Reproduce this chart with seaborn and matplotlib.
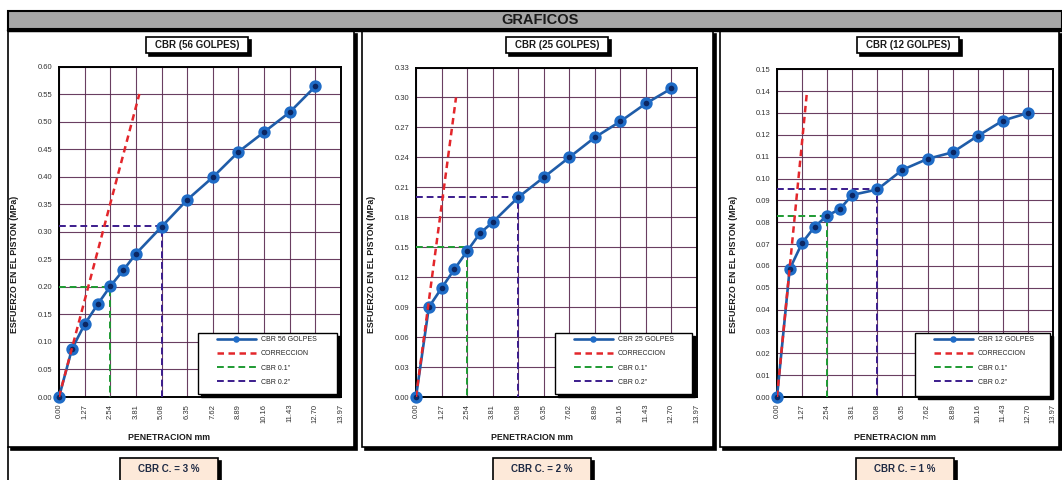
import matplotlib
matplotlib.use("Agg")
import matplotlib.pyplot as plt
import seaborn as sns
import numpy as np
import pandas as pd
from matplotlib.patches import Rectangle

# ---------------- data ----------------
penetracion = [0.00, 0.64, 1.27, 1.91, 2.54, 3.18, 3.81, 5.08, 6.35, 7.62, 8.89, 10.16, 11.43, 12.70]
esfuerzo_56 = [0.000, 0.087, 0.132, 0.168, 0.201, 0.230, 0.260, 0.309, 0.358, 0.399, 0.445, 0.481, 0.517, 0.564]
esfuerzo_25 = [0.000, 0.090, 0.109, 0.128, 0.146, 0.164, 0.175, 0.200, 0.220, 0.240, 0.260, 0.276, 0.294, 0.309]
esfuerzo_12 = [0.000, 0.0585, 0.0705, 0.078, 0.083, 0.086, 0.0925, 0.095, 0.104, 0.109, 0.112, 0.1195, 0.1265, 0.130]

correccion_x = [[0.0, 3.98], [0.0, 1.99], [0.0, 1.52]]
correccion_y = [[0.0, 0.55], [0.0, 0.30], [0.0, 0.14]]

cbr01_x = 2.54
cbr02_x = 5.08
cbr01_y = [0.200, 0.150, 0.083]
cbr02_y = [0.310, 0.200, 0.095]

titles = ["CBR (56 GOLPES)", "CBR (25 GOLPES)", "CBR (12 GOLPES)"]
series_labels = ["CBR 56 GOLPES", "CBR 25 GOLPES", "CBR 12 GOLPES"]
cbr_results = ["CBR C. = 3 %", "CBR C. = 2 %", "CBR C. = 1 %"]
x_ticks = [0.00, 1.27, 2.54, 3.81, 5.08, 6.35, 7.62, 8.89, 10.16, 11.43, 12.70, 13.97]
x_ticklabels = ["0.00", "1.27", "2.54", "3.81", "5.08", "6.35", "7.62", "8.89", "10.16", "11.43", "12.70", "13.97"]
y_max = [0.60, 0.33, 0.15]
y_step = [0.05, 0.03, 0.01]

# ---------------- layout (pixels) ----------------
W, H = 1062, 480
sns.set_theme(style="white")
plt.rcParams["font.family"] = ["Liberation Sans", "DejaVu Sans"]

fig = plt.figure(figsize=(W / 100, H / 100), dpi=100)
fig.patch.set_facecolor("white")

bg = fig.add_axes([0, 0, 1, 1])
bg.set_xlim(0, W)
bg.set_ylim(H, 0)
bg.axis("off")

def box(ax, x0, y0, x1, y1, fc="white", lw=1.2, shadow=3, z=1):
    if shadow:
        ax.add_patch(Rectangle((x0 + shadow, y0 + shadow), x1 - x0, y1 - y0,
                               facecolor="black", edgecolor="black", lw=lw,
                               transform=bg.transData, zorder=z, clip_on=False))
    ax.add_patch(Rectangle((x0, y0), x1 - x0, y1 - y0, facecolor=fc,
                           edgecolor="black", lw=lw, transform=bg.transData,
                           zorder=z + 0.1, clip_on=False))

# Title bar
bg.add_patch(Rectangle((8, 11), W - 8, 18, facecolor="#a6a6a6", edgecolor="black", lw=1.5))
bg.plot([8, W], [29.5, 29.5], color="black", lw=2.5)
bg.text(540, 20, "GRAFICOS", ha="center", va="center", fontsize=10.5, fontweight="bold", color="#1a1a1a")

panel_x = [(8, 354), (362, 713), (720, 1059)]
axes_px = [(59, 341, 66.5, 397), (416, 697, 67.5, 397), (777, 1053, 69.3, 397)]
title_cx = [197, 557, 908]
xlabel_cx = [169, 532, 895]
ylabel_x = [15, 372, 733]
result_cx = [169, 542, 905]
legend_px = [(198, 337, 333, 394), (555, 692, 333, 394), (915, 1050, 333, 396)]

bg.plot([8, 8], [447, 480], color="black", lw=1.2)

for i in range(3):
    px0, px1 = panel_x[i]
    box(bg, px0, 31, px1, 447, shadow=3)
    tw = 102
    box(bg, title_cx[i] - tw / 2, 37, title_cx[i] + tw / 2, 53, shadow=3, z=3)
    bg.text(title_cx[i], 45.3, titles[i], ha="center", va="center", fontsize=7,
            fontweight="bold", color="#1a1a1a", zorder=5)
    box(bg, result_cx[i] - 49, 458, result_cx[i] + 49, 484, fc="#fde9d9", shadow=3, z=3)
    bg.text(result_cx[i], 469.5, cbr_results[i], ha="center", va="center", fontsize=7,
            fontweight="bold", color="#1f2a44", zorder=5)
    bg.text(ylabel_x[i], 264, "ESFUERZO EN EL PISTON (MPa)", rotation=90, ha="center",
            va="center", fontsize=6.3, fontweight="bold", color="#1a1a1a", zorder=5)
    bg.text(xlabel_cx[i], 437, "PENETRACION mm", ha="center", va="center", fontsize=6.3,
            fontweight="bold", color="#1a1a1a", zorder=5)

all_series = [esfuerzo_56, esfuerzo_25, esfuerzo_12]

for i in range(3):
    l, r, t, b = axes_px[i]
    ax = fig.add_axes([l / W, 1 - b / H, (r - l) / W, (b - t) / H])
    ax.set_facecolor("white")

    sns.lineplot(x=[0.0, cbr01_x, cbr01_x], y=[cbr01_y[i], cbr01_y[i], 0.0], ax=ax,
                 sort=False, estimator=None, color="#1e9a32", lw=1.4,
                 linestyle=(0, (3.5, 2)), zorder=3)
    sns.lineplot(x=[0.0, cbr02_x, cbr02_x], y=[cbr02_y[i], cbr02_y[i], 0.0], ax=ax,
                 sort=False, estimator=None, color="#3b1c8c", lw=1.4,
                 linestyle=(0, (3.5, 2)), zorder=3)
    sns.lineplot(x=correccion_x[i], y=correccion_y[i], ax=ax, sort=False, estimator=None,
                 color="#e3262b", lw=1.8, linestyle=(0, (2.6, 1.8)), zorder=5)
    sns.lineplot(x=penetracion, y=all_series[i], ax=ax, sort=False, estimator=None,
                 color="#1f5ca8", lw=1.9, marker="o", markersize=6.5,
                 markerfacecolor="#0c2763", markeredgecolor="#1f6cc7",
                 markeredgewidth=2.4, zorder=4, clip_on=False)

    ax.set_xlim(0, 13.97)
    ax.set_ylim(0, y_max[i])
    ax.set_xticks(x_ticks)
    ax.set_xticklabels(x_ticklabels, rotation=90, fontsize=5.5, color="#333333")
    yt = np.round(np.arange(0, y_max[i] + 1e-9, y_step[i]), 2)
    ax.set_yticks(yt)
    ax.set_yticklabels([f"{v:.2f}" for v in yt], fontsize=5.5, color="#333333")
    ax.tick_params(axis="both", length=2, width=0.6, pad=3, color="#333333")
    ax.grid(True, color="#5a2a50", lw=0.8, alpha=0.9)
    ax.set_axisbelow(True)
    ax.set_xlabel("")
    ax.set_ylabel("")
    for s in ax.spines.values():
        s.set_color("black")
        s.set_linewidth(1.4)
        s.set_visible(True)

    lx0, lx1, ly0, ly1 = legend_px[i]
    ax.add_patch(Rectangle((lx0 + 3, ly0 + 3), lx1 - lx0, ly1 - ly0, facecolor="black",
                           edgecolor="black", lw=1, transform=bg.transData, zorder=8,
                           clip_on=False))
    ax.add_patch(Rectangle((lx0, ly0), lx1 - lx0, ly1 - ly0, facecolor="white",
                           edgecolor="black", lw=1, transform=bg.transData, zorder=8.1,
                           clip_on=False))
    lines = ax.get_lines()
    order = [lines[3], lines[2], lines[0], lines[1]]
    labels = [series_labels[i], "CORRECCION", 'CBR 0.1"', 'CBR 0.2"']
    leg = ax.legend(order, labels, loc="upper left",
                    bbox_to_anchor=(lx0 + 19, ly0 + 3), bbox_transform=bg.transData,
                    frameon=False, fontsize=5, handlelength=5.6, handletextpad=0.7,
                    labelspacing=1.05, borderpad=0, borderaxespad=0, markerscale=0.35)
    leg.set_zorder(9)
    for txt in leg.get_texts():
        txt.set_color("#222222")

fig.savefig("out.png", dpi=100)
